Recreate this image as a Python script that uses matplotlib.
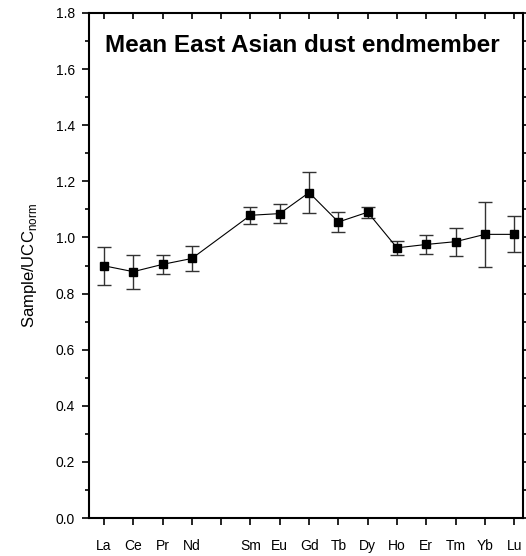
import numpy as np
import matplotlib
matplotlib.use("Agg")
import matplotlib.pyplot as plt
from matplotlib.ticker import MultipleLocator

plt.rcParams['font.family'] = ['Liberation Sans', 'DejaVu Sans']

# Données
elements = ['La', 'Ce', 'Pr', 'Nd', '', 'Sm', 'Eu', 'Gd', 'Tb', 'Dy',
            'Ho', 'Er', 'Tm', 'Yb', 'Lu']
positions = [1, 2, 3, 4, 6, 7, 8, 9, 10, 11, 12, 13, 14, 15]
valeurs = [0.899, 0.878, 0.904, 0.925, 1.079, 1.085, 1.160, 1.055, 1.090,
           0.963, 0.975, 0.985, 1.011, 1.011]
erreurs = [0.068, 0.060, 0.033, 0.043, 0.030, 0.035, 0.072, 0.035, 0.020,
           0.025, 0.035, 0.050, 0.115, 0.064]

fig = plt.figure(figsize=(5.26, 5.56), dpi=100)
ax = fig.add_axes([89/526, 38/556, 434/526, 505/556])

ax.errorbar(positions, valeurs, yerr=erreurs, fmt='s-', color='black',
            ms=6, lw=0.8, ecolor='#333333', elinewidth=1.0, capsize=5,
            capthick=1.0)

ax.set_xlim(0.49, 15.3)
ax.set_ylim(0, 1.8)
ax.set_xticks(range(1, 16))
ax.set_xticklabels(elements, fontsize=10)
ax.yaxis.set_major_locator(MultipleLocator(0.2))
ax.yaxis.set_minor_locator(MultipleLocator(0.1))
ax.yaxis.set_major_formatter(plt.FormatStrFormatter('%.1f'))
ax.tick_params(axis='y', labelsize=10, direction='out', length=5, width=1.2,
               right=True, which='major', pad=5)
ax.tick_params(axis='y', direction='out', length=3, width=1.2, which='minor',
               right=True)
ax.tick_params(axis='x', direction='out', length=5, width=1.2, top=True,
               pad=10)
for s in ax.spines.values():
    s.set_linewidth(1.5)

# Les ticks du haut et de droite pointent vers l'intérieur
for t in ax.xaxis.get_major_ticks():
    t.tick2line.set_marker(3)
    t.tick2line.set_markersize(4)
for t in ax.yaxis.get_major_ticks() + ax.yaxis.get_minor_ticks():
    t.tick2line.set_marker(1)
    t.tick2line.set_markersize(3)

ax.set_ylabel('Sample/UCC$_{\\mathregular{norm}}$', fontsize=12, labelpad=12)
ax.text(0.492, 0.923, 'Mean East Asian dust endmember', transform=ax.transAxes,
        ha='center', va='baseline', fontsize=17.5, fontweight='bold')

fig.savefig('out.png', dpi=100)
